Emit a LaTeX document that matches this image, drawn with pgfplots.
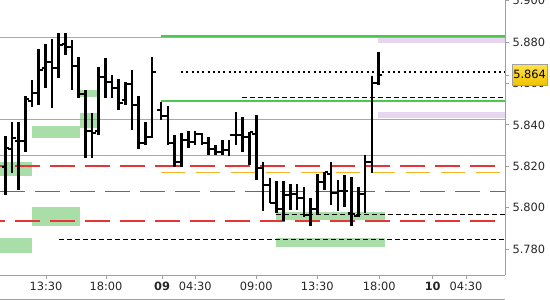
\documentclass[border=0pt]{standalone}
\usepackage{pgfplots}
\pgfplotsset{compat=1.18}
\usepackage{pgfplotstable}
\usepackage{fontspec}
\setmainfont{DejaVu Sans}
\definecolor{axgray}{HTML}{A0A0A0}
\definecolor{gridgray}{HTML}{A8A8A8}
\definecolor{lgreen}{HTML}{A9DEA9}
\definecolor{lavender}{HTML}{E8D6F0}
\definecolor{lvlgreen}{HTML}{4CC94C}
\definecolor{lvlred}{HTML}{E63535}
\definecolor{lvlorange}{HTML}{F5B428}
\definecolor{boxtop}{HTML}{FFE34D}
\definecolor{boxbot}{HTML}{F2C200}

\pgfdeclareplotmark{openT}{\pgfsetlinewidth{2bp}\pgfsetbuttcap\pgfpathmoveto{\pgfqpoint{-3.8bp}{0pt}}\pgfpathlineto{\pgfqpoint{-0.5bp}{0pt}}\pgfusepathqstroke}
\pgfdeclareplotmark{closeT}{\pgfsetlinewidth{2bp}\pgfsetbuttcap\pgfpathmoveto{\pgfqpoint{0.5bp}{0pt}}\pgfpathlineto{\pgfqpoint{3.8bp}{0pt}}\pgfusepathqstroke}

% OHLC bars: x position (chart px), open, high, low, close
\pgfplotstableread{
x o h l c
-1 5.8230 5.8279 5.8134 5.8196
5.3 5.8196 5.8346 5.8061 5.8288
12 5.8283 5.8414 5.8167 5.8337
18.7 5.8322 5.8414 5.8085 5.8322
25.3 5.8322 5.8539 5.8269 5.8525
32 5.8515 5.8617 5.8486 5.8554
38.7 5.8554 5.8766 5.8496 5.8665
45.3 5.8675 5.8791 5.8578 5.8704
52 5.8704 5.8815 5.8481 5.8675
58.7 5.8675 5.8844 5.8626 5.8786
65.3 5.8791 5.8844 5.8737 5.8776
72 5.8776 5.8810 5.8568 5.8684
78.7 5.8684 5.8728 5.8530 5.8549
85.3 5.8549 5.8568 5.8240 5.8370
92 5.8370 5.8457 5.8240 5.8361
98.7 5.8370 5.8679 5.8351 5.8631
105.3 5.8631 5.8723 5.8530 5.8607
112 5.8607 5.8641 5.8530 5.8578
118.7 5.8578 5.8621 5.8472 5.8506
125.3 5.8520 5.8607 5.8496 5.8597
132 5.8597 5.8665 5.8375 5.8496
138.7 5.8496 5.8539 5.8283 5.8312
145.3 5.8312 5.8414 5.8303 5.8341
152 5.8341 5.8728 5.8337 5.8655
161 5.8472 5.8510 5.8423 5.8443
167.8 5.8443 5.8491 5.8303 5.8312
174.6 5.8312 5.8351 5.8196 5.8221
181.4 5.8221 5.8361 5.8196 5.8327
188.2 5.8327 5.8370 5.8288 5.8317
195 5.8317 5.8370 5.8303 5.8356
201.8 5.8356 5.8361 5.8303 5.8312
208.6 5.8312 5.8341 5.8254 5.8283
215.4 5.8283 5.8303 5.8254 5.8269
222.2 5.8269 5.8327 5.8254 5.8279
229 5.8279 5.8327 5.8250 5.8351
235.8 5.8351 5.8462 5.8303 5.8351
242.6 5.8351 5.8438 5.8269 5.8341
249.4 5.8341 5.8365 5.8206 5.8365
256.2 5.8356 5.8448 5.8134 5.8192
263 5.8192 5.8221 5.7984 5.8109
269.8 5.8109 5.8143 5.8022 5.8022
276.6 5.8022 5.8129 5.7974 5.7994
283.4 5.7994 5.8129 5.7936 5.8061
290.2 5.8061 5.8114 5.7989 5.8066
297 5.8066 5.8114 5.7989 5.8047
303.8 5.8047 5.8100 5.7955 5.7965
310.6 5.7965 5.8047 5.7911 5.7994
317.4 5.7994 5.8163 5.7969 5.8124
324.2 5.8124 5.8172 5.8085 5.8172
331 5.8163 5.8221 5.8013 5.8071
337.8 5.8071 5.8134 5.7984 5.8080
344.6 5.8080 5.8158 5.8003 5.8080
351.4 5.7974 5.8148 5.7911 5.7969
358.2 5.7960 5.8100 5.7955 5.8066
365 5.8066 5.8254 5.7974 5.8221
371.8 5.8221 5.8636 5.8167 5.8602
378.6 5.8602 5.8752 5.8592 5.8640
}\bars

\begin{document}
\begin{tikzpicture}
\useasboundingbox (0,0) rectangle (550bp,300bp);
\begin{axis}[
  at={(0bp,25bp)}, anchor=south west,
  scale only axis, width=505bp, height=275bp,
  xmin=0, xmax=505, ymin=5.7675, ymax=5.9003,
  axis x line*=bottom, axis y line*=right,
  axis line style={draw=axgray, line width=0.8bp, -},
  xtick={46,106,162,195.3,256.3,317.3,379.3,432.7,466},
  xticklabels={13:30,18:00,\textbf{09},04:30,09:00,13:30,18:00,\textbf{10},04:30},
  ytick={5.78,5.80,5.82,5.84,5.86,5.88,5.90},
  yticklabel={\pgfmathprintnumber[fixed,fixed zerofill,precision=3,assume math mode=true]{\tick}},
  extra y ticks={5.864}, extra y tick labels={},
  tick style={draw=axgray, line width=0.8bp},
  major tick length=4bp, tick align=outside,
  tick label style={font=\fontsize{11.4bp}{13bp}\selectfont, text=black!85},
  clip mode=individual,
]
% zones
\addplot[fill=lgreen, draw=none] coordinates {(32,5.8394) (80,5.8394) (80,5.8337) (32,5.8337)} -- cycle;
\addplot[fill=lgreen, draw=none] coordinates {(80,5.8568) (99,5.8568) (99,5.8535) (80,5.8535)} -- cycle;
\addplot[fill=lgreen, draw=none] coordinates {(80,5.8457) (99,5.8457) (99,5.8385) (80,5.8385)} -- cycle;
\addplot[fill=lgreen, draw=none] coordinates {(0,5.8221) (32,5.8221) (32,5.8153) (0,5.8153)} -- cycle;
\addplot[fill=lgreen, draw=none] coordinates {(32,5.8003) (80,5.8003) (80,5.7911) (32,5.7911)} -- cycle;
\addplot[fill=lgreen, draw=none] coordinates {(0,5.7854) (32,5.7854) (32,5.7781) (0,5.7781)} -- cycle;
\addplot[fill=lgreen, draw=none] coordinates {(276,5.7979) (385,5.7979) (385,5.7941) (276,5.7941)} -- cycle;
\addplot[fill=lgreen, draw=none] coordinates {(276,5.7854) (385,5.7854) (385,5.7810) (276,5.7810)} -- cycle;
\addplot[fill=lavender, draw=none] coordinates {(378,5.8821) (505,5.8821) (505,5.8797) (378,5.8797)} -- cycle;
\addplot[fill=lavender, draw=none] coordinates {(378,5.8464) (505,5.8464) (505,5.8435) (378,5.8435)} -- cycle;
% horizontal levels
\addplot[gridgray, line width=1bp] coordinates {(0,5.8822) (505,5.8822)};
\addplot[gridgray, line width=1bp] coordinates {(0,5.8428) (505,5.8428)};
\addplot[gridgray, line width=1bp] coordinates {(0,5.8250) (505,5.8250)};
\addplot[lvlgreen, line width=1.5bp] coordinates {(161,5.8829) (505,5.8829)};
\addplot[lvlgreen, line width=1.5bp] coordinates {(161,5.8515) (505,5.8515)};
\addplot[black, line width=2bp, dash pattern=on 2bp off 3.3bp] coordinates {(181,5.8657) (505,5.8657)};
\addplot[black, line width=1bp, dash pattern=on 4.5bp off 3.5bp] coordinates {(242,5.8533) (505,5.8533)};
\addplot[black, line width=1bp, dash pattern=on 4.5bp off 3.5bp] coordinates {(276,5.7969) (505,5.7969)};
\addplot[black, line width=1bp, dash pattern=on 4.5bp off 3.5bp] coordinates {(59,5.7847) (505,5.7847)};
\addplot[lvlred, line width=1.3bp, dash pattern=on 25bp off 10bp, dash phase=20bp] coordinates {(0,5.8201) (505,5.8201)};
\addplot[lvlred, line width=1.3bp, dash pattern=on 25bp off 10bp] coordinates {(0,5.8077) (505,5.8077)};
\addplot[lvlred, line width=1.3bp, dash pattern=on 25bp off 10bp, dash phase=20bp] coordinates {(0,5.7936) (495,5.7936)};
\addplot[lvlorange, line width=1.3bp, dash pattern=on 24bp off 11bp] coordinates {(161,5.8171) (500,5.8171)};
% OHLC bars: high-low ranges
\addplot[black, line width=2.6bp, mark=none, -,
  quiver={u=0, v=\thisrow{h}-\thisrow{l}}]
  table[x=x, y=l] {\bars};
\addplot[only marks, mark=openT, black] table[x=x, y=o] {\bars};
\addplot[only marks, mark=closeT, black] table[x=x, y=c] {\bars};
% current price label
\node[draw=axgray, line width=0.8bp, top color=boxtop, bottom color=boxbot, inner sep=0pt,
  minimum width=35bp, minimum height=21bp, anchor=west, xshift=6.7bp,
  font=\fontsize{11.4bp}{13bp}\selectfont, text=black]
  at (axis cs:505,5.8643) {5.864};
\end{axis}
\draw[axgray, line width=0.8bp] (0,0.6bp) -- (505bp,0.6bp);
\end{tikzpicture}
\end{document}
